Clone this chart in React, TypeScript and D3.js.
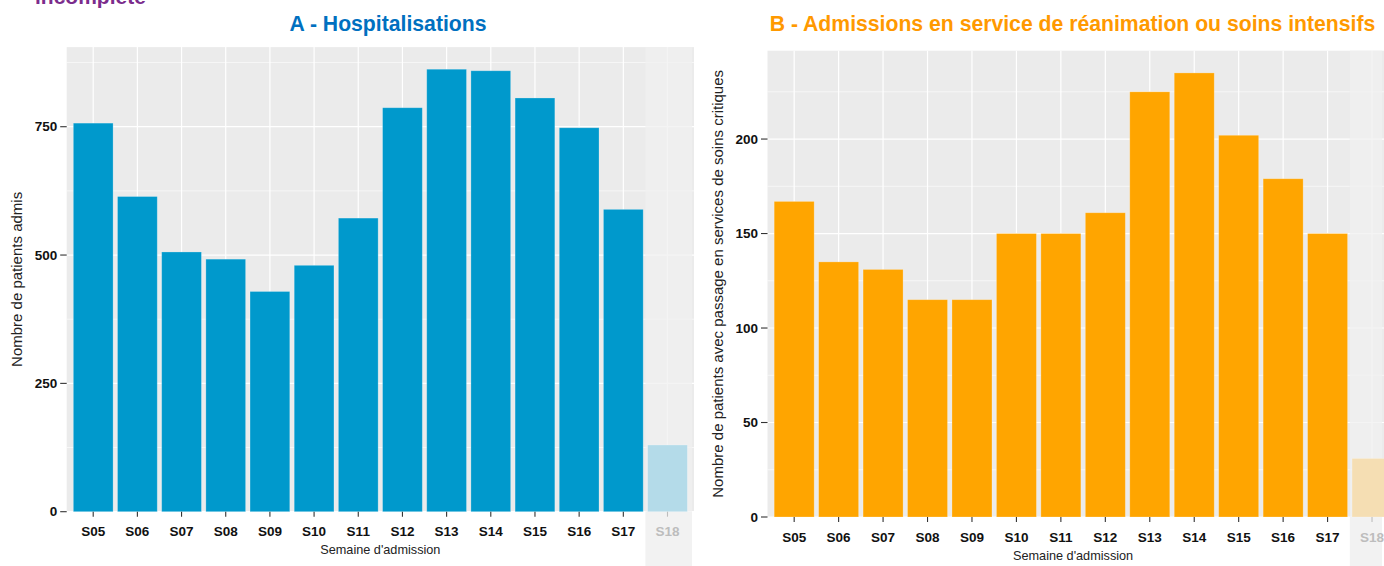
import React from 'react';
import * as d3 from 'd3';

const weeks = ['S05', 'S06', 'S07', 'S08', 'S09', 'S10', 'S11', 'S12', 'S13', 'S14', 'S15', 'S16', 'S17', 'S18'];
const hospitalisations = [757, 614, 506, 492, 429, 480, 572, 787, 862, 859, 806, 748, 589, 130];
const reanimations = [167, 135, 131, 115, 115, 150, 150, 161, 225, 235, 202, 179, 150, 31];
const incompleteWeek = 'S18';
const hospTicks = [0, 250, 500, 750];
const reaTicks = [0, 50, 100, 150, 200];

const FONT = '"Liberation Sans", Arial, Helvetica, sans-serif';

type PanelProps = {
  values: number[];
  ticks: number[];
  color: string;
  lightColor: string;
  left: number;
  right: number;
  bottom: number;
  top: number;
  title: string;
  titleColor: string;
  titleX: number;
  yLabel: string;
  yLabelX: number;
};

function Panel(p: PanelProps) {
  const x = d3.scaleBand<string>().domain(weeks).range([p.left, p.right]).paddingInner(0.1).paddingOuter(0.15);
  const maxV = d3.max(p.values) as number;
  const y = d3.scaleLinear().domain([0, maxV * 1.05]).range([p.bottom, p.top]);
  const step = x.step();
  const bw = x.bandwidth();
  const minor: number[] = [];
  const tstep = p.ticks[1] - p.ticks[0];
  for (let v = tstep / 2; v < maxV * 1.05; v += tstep) minor.push(v);
  const shadeX = (x(incompleteWeek) as number) - step * 0.05;
  const shadeW = Math.min(p.right, 1384) - shadeX - 2;
  return (
    <g>
      <rect x={p.left} y={p.top} width={p.right - p.left} height={p.bottom - p.top} fill="#ebebeb" />
      {minor.map((v) => (
        <line key={'mi' + v} x1={p.left} x2={p.right} y1={y(v)} y2={y(v)} stroke="#ffffff" strokeWidth={0.6} />
      ))}
      {p.ticks.map((v) => (
        <line key={'ma' + v} x1={p.left} x2={p.right} y1={y(v)} y2={y(v)} stroke="#ffffff" strokeWidth={1.2} />
      ))}
      {weeks.map((w) => (
        <line key={'vg' + w} x1={(x(w) as number) + bw / 2} x2={(x(w) as number) + bw / 2} y1={p.top} y2={p.bottom} stroke="#ffffff" strokeWidth={1.2} />
      ))}
      <rect x={shadeX} y={p.top} width={shadeW} height={p.bottom - p.top} fill="#f0f0f0" opacity={0.75} />
      <rect x={shadeX} y={p.bottom} width={shadeW} height={566 - p.bottom} fill="#f2f2f2" />
      {weeks.map((w, i) => (
        <rect
          key={'b' + w}
          x={x(w) as number}
          y={y(p.values[i])}
          width={bw}
          height={y(0) - y(p.values[i])}
          fill={w === incompleteWeek ? p.lightColor : p.color}
          stroke="rgba(255,255,255,0.3)"
          strokeWidth={0.8}
        />
      ))}
      {p.ticks.map((v) => (
        <g key={'yt' + v}>
          <line x1={p.left - 6.5} x2={p.left} y1={y(v)} y2={y(v)} stroke="#333333" strokeWidth={1.1} />
          <text x={p.left - 9.5} y={y(v)} dy="0.35em" textAnchor="end" fontFamily={FONT} fontWeight="bold" fontSize={13.5} fill="#111111">
            {v}
          </text>
        </g>
      ))}
      {weeks.map((w) => {
        const cx = (x(w) as number) + bw / 2;
        const col = w === incompleteWeek ? '#bdbdbd' : '#111111';
        return (
          <g key={'xt' + w}>
            <line x1={cx} x2={cx} y1={p.bottom} y2={p.bottom + 5} stroke={w === incompleteWeek ? '#bdbdbd' : '#333333'} strokeWidth={1.1} />
            <text x={cx} y={p.bottom + 24.5} textAnchor="middle" fontFamily={FONT} fontWeight="bold" fontSize={13.5} fill={col}>
              {w}
            </text>
          </g>
        );
      })}
      <text x={(p.left + p.right) / 2 + (p.right > 1384 ? -10 : 0)} y={p.bottom + 42.5} textAnchor="middle" fontFamily={FONT} fontSize={12.7} fill="#222222">
        Semaine d'admission
      </text>
      <text
        transform={`translate(${p.yLabelX},${(p.top + p.bottom) / 2}) rotate(-90)`}
        textAnchor="middle"
        dy="0.35em"
        fontFamily={FONT}
        fontSize={15}
        fill="#222222"
      >
        {p.yLabel}
      </text>
      <text x={p.titleX} y={30.5} textAnchor="middle" fontFamily={FONT} fontWeight="bold" fontSize={21.2} fill={p.titleColor}>
        {p.title}
      </text>
    </g>
  );
}

export default function App() {
  return (
    <svg width={1384} height={566} style={{ position: 'absolute', left: 0, top: 0, background: '#ffffff' }}>
      <rect x={0} y={0} width={1384} height={566} fill="#ffffff" />
      <text x={35} y={4} fontFamily={FONT} fontWeight="bold" fontSize={21} fill="#7b2c8c">
        incomplète
      </text>
      <Panel
        values={hospitalisations}
        ticks={hospTicks}
        color="#0099cc"
        lightColor="#b4dbe9"
        left={66.7}
        right={694}
        bottom={511.7}
        top={47.1}
        title="A - Hospitalisations"
        titleColor="#0070c0"
        titleX={388}
        yLabel="Nombre de patients admis"
        yLabelX={17}
      />
      <Panel
        values={reanimations}
        ticks={reaTicks}
        color="#ffa500"
        lightColor="#f5deb3"
        left={767.5}
        right={1398.7}
        bottom={517}
        top={50.7}
        title="B - Admissions en service de réanimation ou soins intensifs"
        titleColor="#ff9900"
        titleX={1072.5}
        yLabel="Nombre de patients avec passage en services de soins critiques"
        yLabelX={718}
      />
    </svg>
  );
}
